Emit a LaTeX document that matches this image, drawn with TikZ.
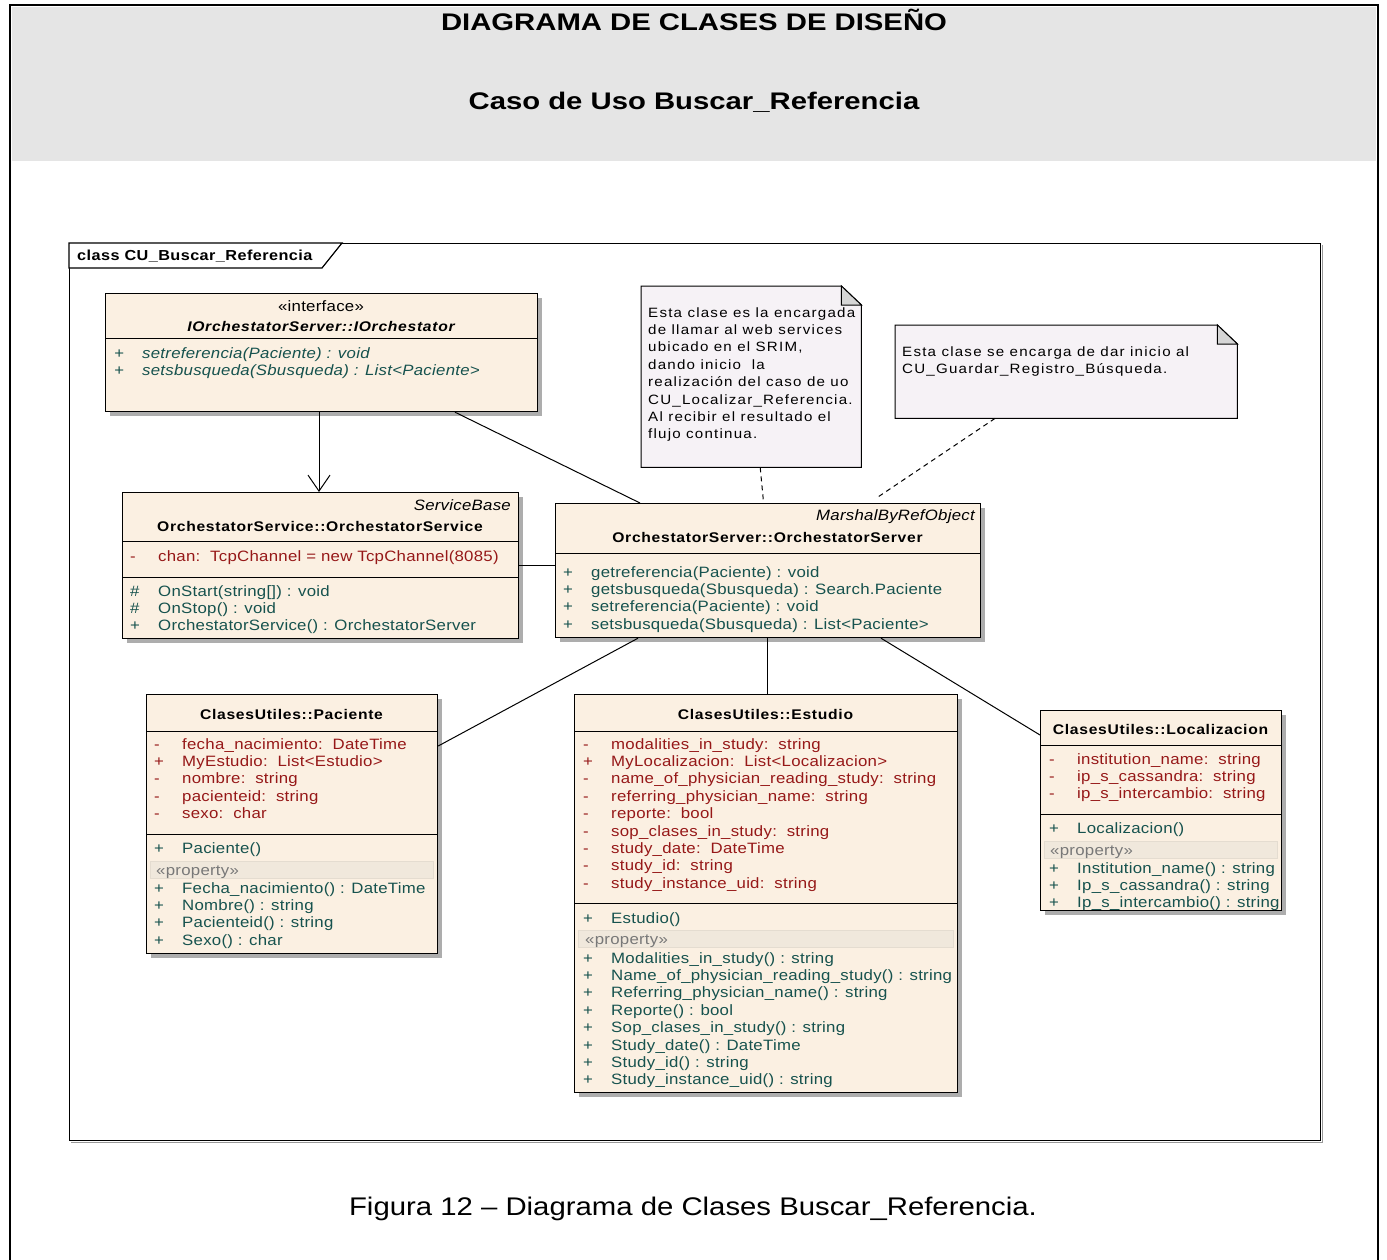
\documentclass[tikz,border=0pt]{standalone}
\usepackage{fontspec}
\usetikzlibrary{arrows.meta,shadows,calc}

% Fonts: Arial-metric sans, slightly widened like the UML tool output
\newfontfamily\umlfont[FakeStretch=1.12,LetterSpace=1.8]{Liberation Sans}
\newfontfamily\umlhead[FakeStretch=1.12,LetterSpace=5]{Liberation Sans}
\newfontfamily\framefont[FakeStretch=1.12,LetterSpace=3]{Liberation Sans}
\newfontfamily\notefont[FakeStretch=1.12,LetterSpace=9]{Liberation Sans}
\newfontfamily\titlefont[FakeStretch=1.22]{Liberation Sans}
\newfontfamily\capfont[FakeStretch=1.15]{Liberation Sans}

\definecolor{classfill}{RGB}{251,240,226}
\definecolor{notefill}{RGB}{246,242,246}
\definecolor{foldgray}{RGB}{214,214,214}
\definecolor{attrred}{RGB}{150,24,24}
\definecolor{opteal}{RGB}{22,82,78}
\definecolor{propfill}{RGB}{240,232,220}
\definecolor{propline}{RGB}{228,220,208}
\definecolor{propgray}{RGB}{120,120,120}
\definecolor{headgray}{RGB}{229,229,229}

% member list: visibility column + text column
\newcommand{\members}[1]{\begin{tabular}[t]{@{}p{28pt}@{}l@{}}#1\end{tabular}}
\newcommand{\notelines}[1]{\begin{tabular}[t]{@{}l@{}}#1\end{tabular}}

\tikzset{
  cls/.style={draw=black, line width=1.2pt, fill=classfill, anchor=north west,
    inner sep=0pt, general shadow={fill=black!32, shadow xshift=4pt, shadow yshift=-4pt}},
  divline/.style={line width=1pt},
  rowtxt/.style={anchor=base west, inner sep=0pt, font=\umlfont\fontsize{15}{17.4}\selectfont},
  attr/.style={rowtxt, text=attrred},
  oper/.style={rowtxt, text=opteal},
  headname/.style={anchor=base, inner sep=0pt, font=\umlhead\bfseries\fontsize{14}{17}\selectfont},
  stereo/.style={inner sep=0pt, font=\umlfont\fontsize{15}{17}\selectfont},
  propband/.style={fill=propfill, draw=propline, line width=0.6pt},
  proptext/.style={anchor=base west, inner sep=0pt, text=propgray, font=\umlfont\fontsize{15}{17}\selectfont},
  notebox/.style={anchor=north west, inner sep=0pt, draw=none},
  noteline/.style={draw=black, line width=1pt, fill=notefill},
  notetxt/.style={anchor=base west, inner sep=0pt, font=\notefont\fontsize{13.5}{17.4}\selectfont},
  assoc/.style={line width=1pt},
  anchorlink/.style={line width=1pt, dash pattern=on 5pt off 4pt},
}

\begin{document}
\begin{tikzpicture}[x=1pt, y=-1pt]
\useasboundingbox (0,0) rectangle (1387,1260);

% page header band and outer border
\fill[headgray] (12,7) rectangle (1376,161);
\draw[line width=2pt] (10,1262) -- (10,5) -- (1378,5) -- (1378,1262);
\node[anchor=base, inner sep=0pt, font=\titlefont\bfseries\fontsize{24}{28}\selectfont] (title) at (694,30.5) {DIAGRAMA DE CLASES DE DISEÑO};
\node[anchor=base, inner sep=0pt, font=\titlefont\bfseries\fontsize{24}{28}\selectfont] (subtitle) at (694,109.5) {Caso de Uso Buscar\_Referencia};

% diagram frame with its name tab
\draw[black!40, line width=1pt] (71,1142.5) -- (1322.5,1142.5) -- (1322.5,245);
\node[draw=black, line width=1.2pt, anchor=north west, inner sep=0pt, minimum width=1251pt, minimum height=897pt] (frame) at (69,243) {};
\draw[line width=1.2pt, fill=white] (frame.north west) -- ([xshift=273pt]frame.north west) -- ([xshift=253pt, yshift=-25pt]frame.north west) -- ([yshift=-25pt]frame.north west) -- cycle;
\node[anchor=base west, inner sep=0pt, font=\framefont\bfseries\fontsize{14.5}{17}\selectfont] (framelabel) at (77,260) {class CU\_Buscar\_Referencia};

% ---- interface IOrchestator
\node[cls, minimum width=432pt, minimum height=118pt] (iface) at (105,293) {};
\draw[divline] (105,338) -- (537,338);
\node[stereo, anchor=base] (iface-st) at (321,311) {«interface»};
\node[headname, font=\umlhead\bfseries\itshape\fontsize{14}{17}\selectfont] (iface-nm) at (321,331) {IOrchestatorServer::IOrchestator};
\node[oper, font=\umlfont\itshape\fontsize{15}{17.4}\selectfont] (iface-ops) at (114,358) {\members{
+ & setreferencia(Paciente) : void\\
+ & setsbusqueda(Sbusqueda) : List<Paciente>}};

% ---- OrchestatorService
\node[cls, minimum width=396pt, minimum height=146pt] (svc) at (122,492) {};
\draw[divline] (122,541) -- (518,541);
\draw[divline] (122,577) -- (518,577);
\node[stereo, anchor=base east, font=\umlfont\itshape\fontsize{15}{17}\selectfont] (svc-st) at (511,510) {ServiceBase};
\node[headname] (svc-nm) at (320,531) {OrchestatorService::OrchestatorService};
\node[attr] (svc-attr) at (130,561) {\members{
- & chan:\ \ TcpChannel = new TcpChannel(8085)}};
\node[oper] (svc-ops) at (130,596) {\members{
\# & OnStart(string[]) : void\\
\# & OnStop() : void\\
+ & OrchestatorService() : OrchestatorServer}};

% ---- OrchestatorServer
\node[cls, minimum width=425pt, minimum height=134pt] (srv) at (555,503) {};
\draw[divline] (555,553) -- (980,553);
\node[stereo, anchor=base east, font=\umlfont\itshape\fontsize{15}{17}\selectfont] (srv-st) at (975,520) {MarshalByRefObject};
\node[headname] (srv-nm) at (767.5,542) {OrchestatorServer::OrchestatorServer};
\node[oper] (srv-ops) at (563,577) {\members{
+ & getreferencia(Paciente) : void\\
+ & getsbusqueda(Sbusqueda) : Search.Paciente\\
+ & setreferencia(Paciente) : void\\
+ & setsbusqueda(Sbusqueda) : List<Paciente>}};

% ---- Paciente
\node[cls, minimum width=291pt, minimum height=259pt] (pac) at (146,694) {};
\draw[divline] (146,731) -- (437,731);
\draw[divline] (146,834) -- (437,834);
\node[headname] (pac-nm) at (291.5,719) {ClasesUtiles::Paciente};
\node[attr] (pac-attr) at (154,749) {\members{
- & fecha\_nacimiento:\ \ DateTime\\
+ & MyEstudio:\ \ List<Estudio>\\
- & nombre:\ \ string\\
- & pacienteid:\ \ string\\
- & sexo:\ \ char}};
\node[oper] (pac-ctor) at (154,853) {\members{+ & Paciente()}};
\draw[propband] (150,861) rectangle (433,878);
\node[proptext] (pac-prop) at (156,875) {«property»};
\node[oper] (pac-ops) at (154,893) {\members{
+ & Fecha\_nacimiento() : DateTime\\
+ & Nombre() : string\\
+ & Pacienteid() : string\\
+ & Sexo() : char}};

% ---- Estudio
\node[cls, minimum width=383pt, minimum height=398pt] (est) at (574,694) {};
\draw[divline] (574,731) -- (957,731);
\draw[divline] (574,903) -- (957,903);
\node[headname] (est-nm) at (765.5,719) {ClasesUtiles::Estudio};
\node[attr] (est-attr) at (583,749) {\members{
- & modalities\_in\_study:\ \ string\\
+ & MyLocalizacion:\ \ List<Localizacion>\\
- & name\_of\_physician\_reading\_study:\ \ string\\
- & referring\_physician\_name:\ \ string\\
- & reporte:\ \ bool\\
- & sop\_clases\_in\_study:\ \ string\\
- & study\_date:\ \ DateTime\\
- & study\_id:\ \ string\\
- & study\_instance\_uid:\ \ string}};
\node[oper] (est-ctor) at (583,923) {\members{+ & Estudio()}};
\draw[propband] (578,930) rectangle (953,947);
\node[proptext] (est-prop) at (585,944) {«property»};
\node[oper] (est-ops) at (583,963) {\members{
+ & Modalities\_in\_study() : string\\
+ & Name\_of\_physician\_reading\_study() : string\\
+ & Referring\_physician\_name() : string\\
+ & Reporte() : bool\\
+ & Sop\_clases\_in\_study() : string\\
+ & Study\_date() : DateTime\\
+ & Study\_id() : string\\
+ & Study\_instance\_uid() : string}};

% ---- Localizacion
\node[cls, minimum width=241pt, minimum height=200pt] (loc) at (1040,710) {};
\draw[divline] (1040,745) -- (1281,745);
\draw[divline] (1040,814) -- (1281,814);
\node[headname] (loc-nm) at (1160.5,734) {ClasesUtiles::Localizacion};
\node[attr] (loc-attr) at (1049,764) {\members{
- & institution\_name:\ \ string\\
- & ip\_s\_cassandra:\ \ string\\
- & ip\_s\_intercambio:\ \ string}};
\node[oper] (loc-ctor) at (1049,833) {\members{+ & Localizacion()}};
\draw[propband] (1044,841) rectangle (1277,858);
\node[proptext] (loc-prop) at (1050,855) {«property»};
\node[oper] (loc-ops) at (1049,873) {\members{
+ & Institution\_name() : string\\
+ & Ip\_s\_cassandra() : string\\
+ & Ip\_s\_intercambio() : string}};

% ---- notes
\node[notebox, minimum width=220pt, minimum height=181pt] (n1) at (641,286) {};
\draw[noteline] (n1.north west) -- ([xshift=-20pt]n1.north east) -- ([yshift=-19pt]n1.north east) -- (n1.south east) -- (n1.south west) -- cycle;
\draw[line width=1pt, fill=foldgray] ([xshift=-20pt]n1.north east) -- ([xshift=-20pt, yshift=-19pt]n1.north east) -- ([yshift=-19pt]n1.north east) -- cycle;
\node[notetxt] (n1-txt) at (648,317) {\notelines{
Esta clase es la encargada\\
de llamar al web services\\
ubicado en el SRIM,\\
dando inicio\ \ la\\
realización del caso de uo\\
CU\_Localizar\_Referencia.\\
Al recibir el resultado el\\
flujo continua.}};

\node[notebox, minimum width=342pt, minimum height=93pt] (n2) at (895,325) {};
\draw[noteline] (n2.north west) -- ([xshift=-20pt]n2.north east) -- ([yshift=-19pt]n2.north east) -- (n2.south east) -- (n2.south west) -- cycle;
\draw[line width=1pt, fill=foldgray] ([xshift=-20pt]n2.north east) -- ([xshift=-20pt, yshift=-19pt]n2.north east) -- ([yshift=-19pt]n2.north east) -- cycle;
\node[notetxt] (n2-txt) at (902,356) {\notelines{
Esta clase se encarga de dar inicio al\\
CU\_Guardar\_Registro\_Búsqueda.}};

% ---- connectors
\draw[assoc, -{Straight Barb[length=16pt, width=22pt, line width=1pt]}]
  ([xshift=214pt]iface.south west) -- ([xshift=197pt]svc.north west);
\draw[assoc] ([xshift=350pt]iface.south west) -- ([xshift=85pt]srv.north west);
\draw[assoc] (svc.east) -- (svc.east -| srv.west);
\draw[anchorlink] ([xshift=9pt]n1.south) -- ([xshift=-4.5pt]srv.north);
\draw[anchorlink, shorten >=10pt] ([xshift=100pt]n2.south west) -- ([xshift=314pt]srv.north west);
\draw[assoc] ([xshift=83pt]srv.south west) -- ([yshift=-52pt]pac.north east);
\draw[assoc] ([xshift=212pt]srv.south west) -- ([xshift=193pt]est.north west);
\draw[assoc] ([xshift=326pt]srv.south west) -- ([yshift=-25pt]loc.north west);

% caption
\node[anchor=base, inner sep=0pt, font=\capfont\fontsize{25.5}{30}\selectfont] (caption) at (693,1215) {Figura 12 – Diagrama de Clases Buscar\_Referencia.};
\end{tikzpicture}
\end{document}
